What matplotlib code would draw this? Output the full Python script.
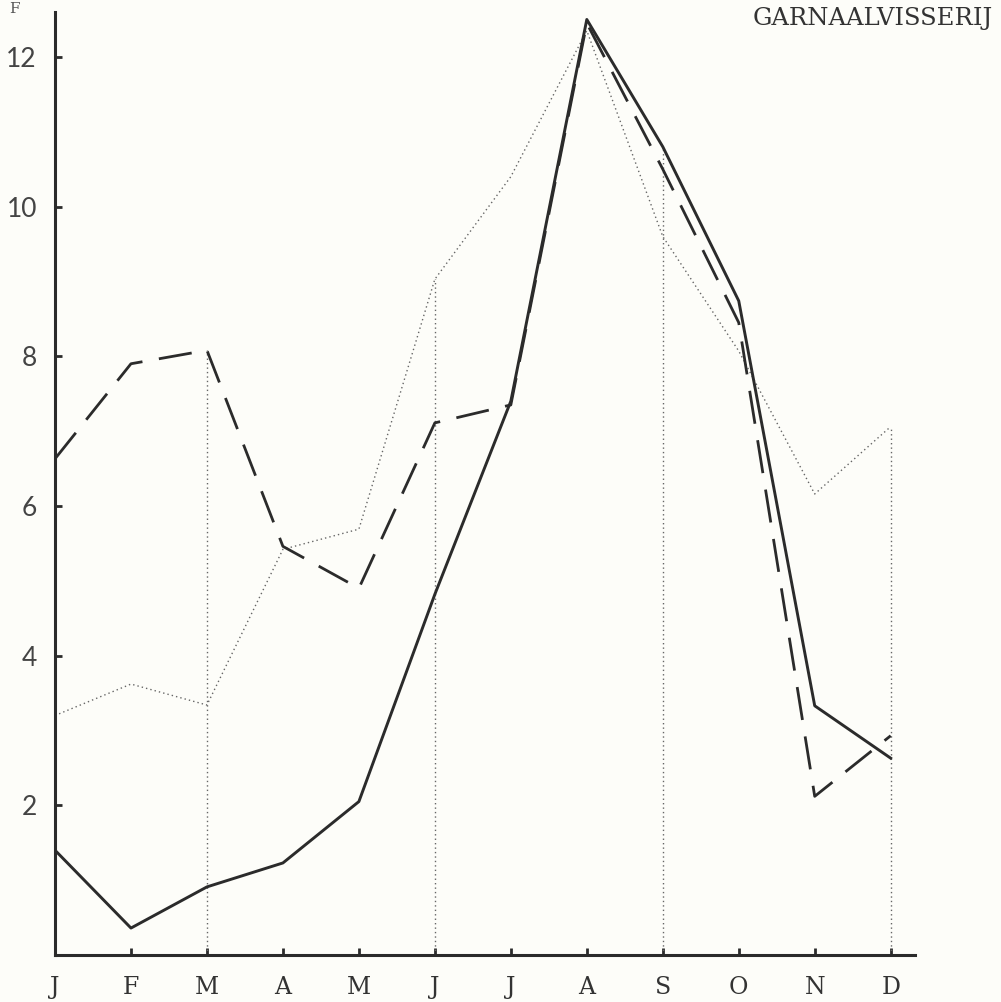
import numpy as np
import matplotlib
matplotlib.use('Agg')
import matplotlib.pyplot as plt

# monthly values
months = ['J', 'F', 'M', 'A', 'M', 'J', 'J', 'A', 'S', 'O', 'N', 'D']
solid = [1.40, 0.36, 0.91, 1.23, 2.05, 4.82, 7.40, 12.50, 10.80, 8.74, 3.33, 2.63]
dashed = [6.63, 7.90, 8.08, 5.46, 4.90, 7.11, 7.35, 12.45, 10.50, 8.45, 2.12, 2.93]
dotted = [3.20, 3.62, 3.34, 5.42, 5.69, 9.03, 10.40, 12.35, 9.60, 8.07, 6.16, 7.06]
quarter_ends = [2, 5, 8, 11]
y_ticks = [2, 4, 6, 8, 10, 12]
title = 'GARNAALVISSERIJ'

ink = '#2b2b2b'
paper = '#fdfdf9'

fig = plt.figure(figsize=(10.01, 10.02), dpi=100, facecolor=paper)
ax = fig.add_axes([55 / 1001, 47 / 1002, 860 / 1001, 943 / 1002])
ax.set_facecolor(paper)

x = np.arange(len(months))

# vertical dotted lines at the end of each quarter, up to the highest curve
tops = [max(solid[i], dashed[i], dotted[i]) for i in quarter_ends]
ax.vlines(quarter_ends, 0, tops, colors='#666666', linestyles=(0, (1, 2.2)), linewidth=1.0)

ax.plot(x, dotted, color='#666666', linestyle=(0, (1, 2.2)), linewidth=1.0)
ax.plot(x, dashed, color=ink, linestyle=(0, (12, 6)), linewidth=2.0)
ax.plot(x, solid, color=ink, linestyle='-', linewidth=2.1)

ax.set_xlim(0, 11.32)
ax.set_ylim(0, 12.6)

for side in ['top', 'right']:
    ax.spines[side].set_visible(False)
for side in ['left', 'bottom']:
    ax.spines[side].set_color(ink)
    ax.spines[side].set_linewidth(2.2)

ax.set_xticks(x)
ax.set_xticklabels(months, family='DejaVu Serif', fontsize=17, color='#333333')
ax.set_yticks(y_ticks)
ax.set_yticklabels([str(v) for v in y_ticks], family='Lato', fontsize=19, color='#444444')
ax.tick_params(axis='x', direction='in', length=5, width=2, color=ink, pad=15)
ax.tick_params(axis='y', direction='in', length=5, width=2, color=ink, pad=13)

fig.text(993 / 1001, 1 - 19 / 1002, title, family='DejaVu Serif', fontsize=17.5,
         color='#333333', ha='right', va='center')
fig.text(14 / 1001, 1 - 9 / 1002, 'F', family='DejaVu Serif', fontsize=11,
         color='#555555', ha='center', va='center')

fig.savefig('out.png', dpi=100, facecolor=paper)
